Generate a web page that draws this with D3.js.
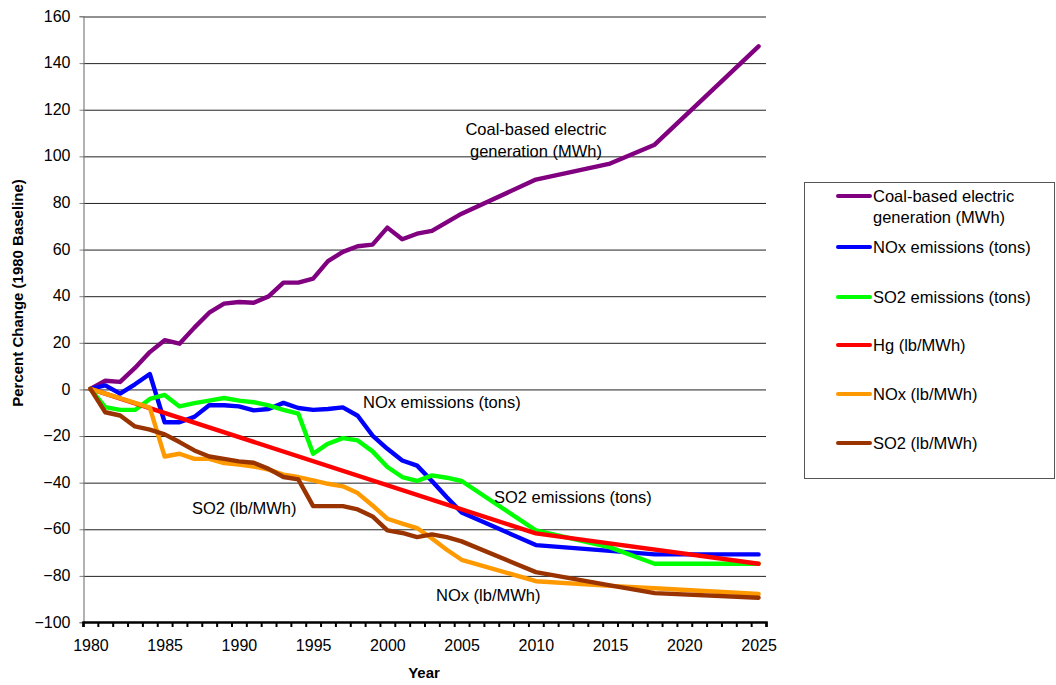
<!DOCTYPE html>
<html>
<head>
<meta charset="utf-8">
<script src="https://cdn.jsdelivr.net/npm/d3@7"></script>
<style>
  html, body { margin: 0; padding: 0; background: #fff; }
  svg { display: block; font-family: "Liberation Sans", Arial, sans-serif; }
</style>
</head>
<body>
<svg id="chart" width="1056" height="685"></svg>
<script>
// ---------- DATA ----------
const years = [1980,1981,1982,1983,1984,1985,1986,1987,1988,1989,1990,1991,1992,1993,1994,1995,1996,1997,1998,1999,
  2000,2001,2002,2003,2004,2005,2006,2007,2008,2009,2010,2011,2012,2013,2014,2015,2016,2017,2018,2019,
  2020,2021,2022,2023,2024,2025];
const xTickLabels = [1980,1985,1990,1995,2000,2005,2010,2015,2020,2025];
const yTicks = [-100,-80,-60,-40,-20,0,20,40,60,80,100,120,140,160];

const coalGen = [0,3.5,3,9,15.8,20.9,19.4,26.3,32.7,36.6,37.3,37,39.7,45.6,45.6,47.3,54.8,58.8,61.2,61.9,
  69.2,64.2,66.6,67.8,null,75.2,null,null,null,null,89.8,null,null,null,null,96.7,null,null,104.8,null,
  null,null,null,null,null,147];
const noxTons = [0,1.5,-2,2,6.4,-14.3,-14.3,-12,-7,-7,-7.5,-9.2,-8.6,-6,-8.2,-9,-8.6,-7.9,-11.5,-20,
  -25.7,-30.7,-32.9,-39.5,-46.5,-53,null,null,null,null,-67,null,null,null,null,-69.5,null,null,-71,null,
  null,null,null,null,null,-71];
const so2Tons = [0,-7.8,-9,-9,-4.3,-2.6,-7.5,-6.1,-5,-3.9,-5,-5.7,-7.1,-9,-10.6,-27.8,-23.5,-21.1,-22.1,-26.8,
  -33.5,-37.8,-39.5,-37.1,-38.1,-39.5,null,null,null,null,-60.7,null,null,null,null,-68,null,null,-75,null,
  null,null,null,null,null,-75];
const hgRate = [0,null,null,null,null,null,null,null,null,null,null,null,null,null,null,null,null,null,null,null,
  null,null,null,null,null,null,null,null,null,null,-62,null,null,null,null,null,null,null,null,null,
  null,null,null,null,null,-75];
const noxRate = [0,-2,-4,-6,-8,-29,-27.8,-30,-30,-31.8,-32.5,-33.3,-34.6,-36.8,-37.8,-39.2,-40.7,-41.8,-44.7,-50,
  -55.7,-57.8,-59.7,-64.2,-69,-73.3,null,null,null,null,-82.5,null,null,null,null,-84.5,null,null,-85.5,null,
  null,null,null,null,null,-88];
const so2Rate = [0,-10,-11.4,-16.1,-17.5,-19.5,-22.8,-26.4,-29,-30,-31.1,-31.7,-34.3,-37.8,-38.8,-50.3,-50.3,-50.3,-51.7,-54.7,
  -60.7,-61.8,-63.6,-62.4,-63.6,-65.4,null,null,null,null,-78.6,null,null,null,null,-84.3,null,null,-87.6,null,
  null,null,null,null,null,-89.6];

const seriesNames = ["Coal-based electric generation (MWh)","NOx emissions (tons)","SO2 emissions (tons)",
  "Hg (lb/MWh)","NOx (lb/MWh)","SO2 (lb/MWh)"];
const seriesValues = [coalGen, noxTons, so2Tons, hgRate, noxRate, so2Rate];
const seriesColors = ["#800080","#0000FF","#00FF00","#FF0000","#FF9900","#993300"];

// ---------- LAYOUT ----------
const L = 83, R = 766, T = 16, B = 622;
const svg = d3.select("#chart");

const x = d3.scalePoint().domain(years).range([L, R]).padding(0.5);
const xEdge = d3.scaleLinear().domain([0, years.length]).range([L, R]);
const y = d3.scaleLinear().domain([-100, 160]).range([B, T]);

// gridlines
svg.append("g")
  .attr("transform", `translate(${L},0)`)
  .call(d3.axisLeft(y).tickValues(yTicks.filter(v => v > -100)).tickSize(-(R - L)).tickFormat(""))
  .call(g => g.select(".domain").remove())
  .call(g => g.selectAll("line").attr("stroke", "#222").attr("stroke-width", 1)
     .attr("transform", "translate(0,0.5)"));

// y axis
svg.append("g")
  .attr("transform", `translate(${L + 0.5},0)`)
  .call(d3.axisLeft(y).tickValues(yTicks).tickSize(4).tickPadding(9))
  .call(g => g.select(".domain").attr("stroke", "#808080").attr("stroke-width", 1.2))
  .call(g => g.selectAll("line").attr("stroke", "#808080").attr("transform", "translate(0,0.5)"))
  .call(g => g.selectAll("text").attr("font-size", "16px").attr("fill", "#000")
     .attr("font-family", "Liberation Sans, Arial, sans-serif"));

// x axis: category boundary ticks
svg.append("g")
  .attr("transform", `translate(0,${B})`)
  .call(d3.axisBottom(xEdge).tickValues(d3.range(years.length + 1)).tickSize(5).tickFormat(""))
  .call(g => g.select(".domain").attr("stroke", "#000").attr("stroke-width", 2.5))
  .call(g => g.selectAll("line").attr("stroke", "#000").attr("stroke-width", 2));

// x axis labels
svg.append("g")
  .attr("transform", `translate(0,${B})`)
  .call(d3.axisBottom(x).tickValues(xTickLabels).tickSize(0).tickPadding(18))
  .call(g => g.select(".domain").remove())
  .call(g => g.selectAll("text").attr("font-size", "16px").attr("fill", "#000")
     .attr("font-family", "Liberation Sans, Arial, sans-serif"));

// axis titles
svg.append("text").attr("x", 424).attr("y", 678).attr("text-anchor", "middle")
  .attr("font-size", "15px").attr("font-weight", "bold").text("Year");
svg.append("text").attr("transform", "translate(23,293) rotate(-90)").attr("text-anchor", "middle")
  .attr("font-size", "15px").attr("font-weight", "bold").text("Percent Change (1980 Baseline)");

// lines
const line = d3.line().x(d => x(d.year)).y(d => y(d.value));
seriesValues.forEach((vals, i) => {
  const pts = years.map((yr, j) => ({year: yr, value: vals[j]})).filter(d => d.value !== null);
  svg.append("path").datum(pts)
    .attr("d", line)
    .attr("fill", "none")
    .attr("stroke", seriesColors[i])
    .attr("stroke-width", 4.4)
    .attr("stroke-linejoin", "round")
    .attr("stroke-linecap", "round");
});

// annotations
const ann = svg.append("g").attr("font-size", "16.5px").attr("fill", "#000");
ann.append("text").attr("x", 536).attr("y", 135).attr("text-anchor", "middle").text("Coal-based electric");
ann.append("text").attr("x", 536).attr("y", 157).attr("text-anchor", "middle").text("generation (MWh)");
ann.append("text").attr("x", 363).attr("y", 408).text("NOx emissions (tons)");
ann.append("text").attr("x", 494).attr("y", 503).text("SO2 emissions (tons)");
ann.append("text").attr("x", 192).attr("y", 514).text("SO2 (lb/MWh)");
ann.append("text").attr("x", 436).attr("y", 601).text("NOx (lb/MWh)");

// legend
const lg = svg.append("g");
lg.append("rect").attr("x", 804.5).attr("y", 182.5).attr("width", 250).attr("height", 296)
  .attr("fill", "#fff").attr("stroke", "#555").attr("stroke-width", 1);
const legendRows = [196, 247, 297, 345, 394, 443];
const legendLabels = [["Coal-based electric", "generation (MWh)"], ["NOx emissions (tons)"], ["SO2 emissions (tons)"],
  ["Hg (lb/MWh)"], ["NOx (lb/MWh)"], ["SO2 (lb/MWh)"]];
legendRows.forEach((ry, i) => {
  lg.append("line").attr("x1", 838).attr("x2", 870).attr("y1", ry).attr("y2", ry)
    .attr("stroke", seriesColors[i]).attr("stroke-width", 4).attr("stroke-linecap", "round");
  legendLabels[i].forEach((t, k) => {
    lg.append("text").attr("x", 873).attr("y", ry + 6 + k * 21).attr("font-size", "16.5px").text(t);
  });
});
</script>
</body>
</html>
